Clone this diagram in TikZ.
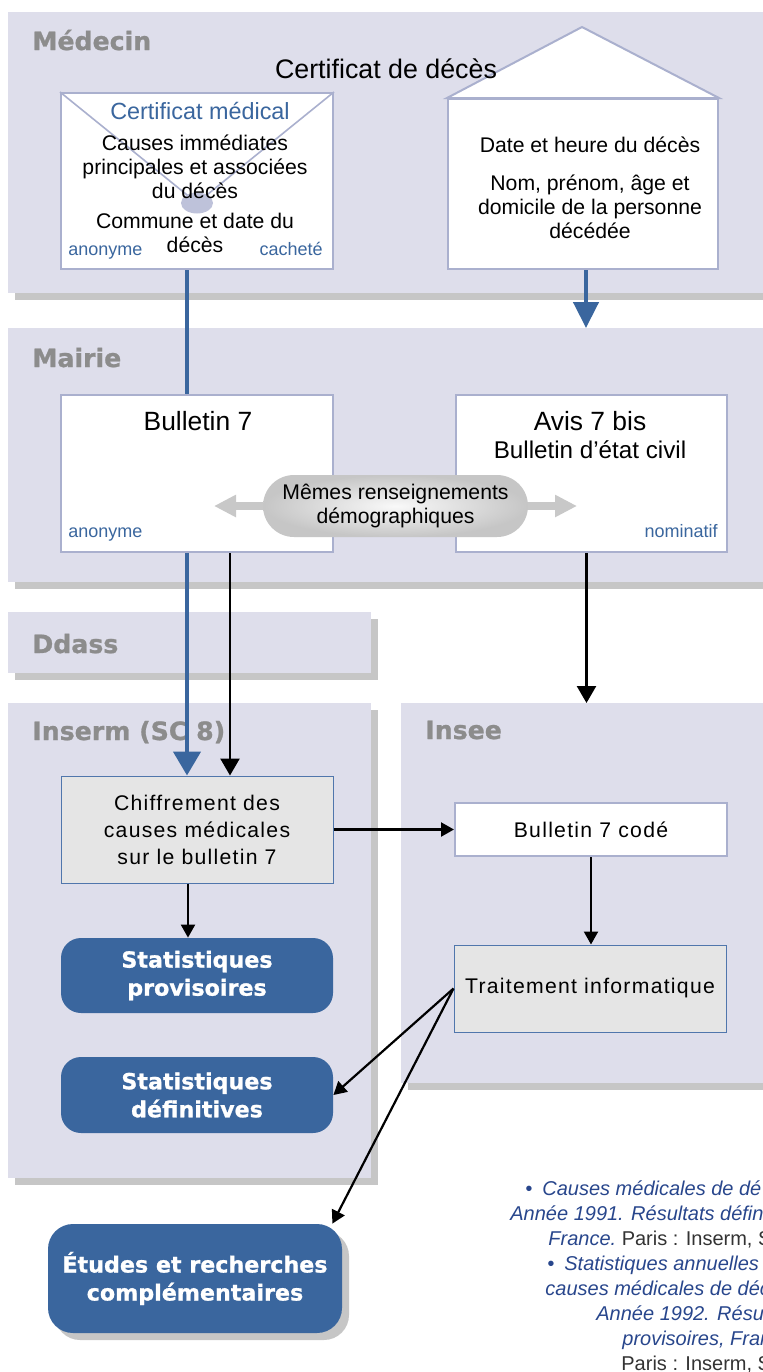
\documentclass[tikz,border=0pt]{standalone}
\usepackage{fontspec}
\setmainfont{Liberation Sans}
\newfontfamily\heavyfont[FakeBold=1]{DejaVu Sans Bold}
\newfontfamily\trackfont[LetterSpace=6]{Liberation Sans}
\usepackage{xcolor}
\usetikzlibrary{arrows.meta,shadows,shapes.geometric}

\definecolor{panelfill}{RGB}{222,222,235}
\definecolor{panelshadow}{RGB}{198,198,198}
\definecolor{titlegray}{RGB}{140,140,140}
\definecolor{inseblue}{RGB}{58,102,158}
\definecolor{boxline}{RGB}{170,176,206}
\definecolor{boxgray}{RGB}{229,229,229}
\definecolor{thinblue}{RGB}{80,118,172}
\definecolor{refblue}{RGB}{40,70,140}
\definecolor{refgray}{RGB}{51,51,51}
\definecolor{sealfill}{RGB}{190,194,218}
\definecolor{arrowgray}{RGB}{200,200,200}

\begin{document}
\begin{tikzpicture}[x=0.5pt,y=-0.5pt,
    panel/.style={fill=panelfill,inner sep=0pt,outer sep=0pt,
      drop shadow={shadow xshift=3.5pt,shadow yshift=-3.5pt,fill=panelshadow,opacity=1}},
    paneltitle/.style={anchor=base west,inner sep=0pt,text=titlegray,
      font=\heavyfont\fontsize{12.6}{15}\selectfont},
    docbox/.style={draw=boxline,line width=1pt,fill=white,inner sep=0pt},
    procbox/.style={draw=thinblue,line width=0.5pt,fill=boxgray,inner sep=0pt,align=center,
      font=\trackfont\fontsize{10.6}{13.5}\selectfont},
    resultbox/.style={fill=inseblue,rounded corners=10pt,text=white,inner sep=0pt,align=center,
      minimum width=136pt,font=\heavyfont\fontsize{11.1}{14}\selectfont},
    pill/.style={rounded corners=15.5pt,minimum width=132.5pt,minimum height=31pt,inner sep=0pt,
      align=center,inner color=gray!5,outer color=gray!45,font=\fontsize{10.6}{12}\selectfont},
    bodytext/.style={inner sep=0pt,align=center,font=\fontsize{10.6}{12}\selectfont},
    doctag/.style={inner sep=0pt,text=inseblue,font=\fontsize{9}{11}\selectfont},
    bib/.style={anchor=base west,inner sep=0pt,text=refblue,font=\fontsize{10}{12.5}\selectfont\itshape},
    blueline/.style={draw=inseblue,line width=2.25pt},
    bluearr/.style={blueline,-{Triangle[width=13.5pt,length=12pt]}},
    arr/.style={line width=1.1pt,-{Triangle[width=7pt,length=6.5pt]}},
    bigarr/.style={line width=1.25pt,-{Triangle[width=9.5pt,length=8.5pt]}},
    grayarr/.style={draw=arrowgray,line width=3.8pt,-{Triangle[width=10.5pt,length=11pt]}}
  ]
  \useasboundingbox (0,0) rectangle (763,1372);
  \clip (0,0) rectangle (763,1372);

  % panels
  \node[panel,minimum width=386pt,minimum height=140.5pt] (medecin) at (394,152.5) {};
  \node[panel,minimum width=386pt,minimum height=127pt] (mairie) at (394,455) {};
  \node[panel,minimum width=181.5pt,minimum height=30.5pt] (ddass) at (189.5,642.5) {};
  \node[panel,minimum width=181.5pt,minimum height=237.5pt] (inserm) at (189.5,940.5) {};
  \node[panel,minimum width=189.5pt,minimum height=190pt] (insee) at (590.5,893) {};
  \node[paneltitle] (medecintitle) at (32,50) {Médecin};
  \node[paneltitle] (mairietitle) at (32,367) {Mairie};
  \node[paneltitle] (ddasstitle) at (32,653) {Ddass};
  \node[paneltitle] (insermtitle) at (32,740) {Inserm (SC 8)};
  \node[paneltitle] (inseetitle) at (425,739) {Insee};

  % Medecin: envelope
  \node[docbox,minimum width=136pt,minimum height=88pt] (cert) at (197,181) {};
  \coordinate (flaptip) at (197,203);
  \draw[boxline,line width=0.8pt] (cert.north west) -- (flaptip) -- (cert.north east);
  \node[ellipse,fill=sealfill,minimum width=16pt,minimum height=10.5pt,inner sep=0pt] (seal) at (flaptip) {};
  \node[anchor=base,inner sep=0pt,text=inseblue,font=\fontsize{11.7}{14}\selectfont] (certtitle) at (200,119) {Certificat médical};
  \node[bodytext] (certbody) at (195,194) {Causes immédiates\\principales et associées\\du décès\\[3pt]Commune et date du\\décès};
  \node[doctag,anchor=base west] (certanon) at (68,255) {anonyme};
  \node[doctag,anchor=base east] (certseal) at (323,255) {cacheté};

  % Medecin: house
  \node[docbox,minimum width=135pt,minimum height=85pt] (house) at (583,184) {};
  \coordinate (roof) at (582,27);
  \filldraw[fill=white,draw=boxline,line width=1pt] (house.north west) -- (roof) -- (house.north east) -- cycle;
  \node[bodytext] (housetext) at (590,188) {Date et heure du décès\\[7pt]Nom, prénom, âge et\\domicile de la personne\\décédée};
  \node[anchor=base,inner sep=0pt,font=\fontsize{13.4}{16}\selectfont] (certdeces) at (386,78) {Certificat de décès};

  % Mairie
  \node[docbox,minimum width=136pt,minimum height=78.5pt] (bul) at (197,473.5) {};
  \node[docbox,minimum width=135.5pt,minimum height=78.5pt] (avis) at (591.5,473.5) {};
  \node[anchor=base,inner sep=0pt,font=\fontsize{13.2}{16}\selectfont] (bultitle) at (198,430) {Bulletin 7};
  \node[anchor=base,inner sep=0pt,font=\fontsize{13.2}{16}\selectfont] (avistitle) at (590,430) {Avis 7 bis};
  \node[anchor=base,inner sep=0pt,font=\fontsize{12.1}{14}\selectfont] (avissub) at (590,458) {Bulletin d’état civil};
  \node[doctag,anchor=base west] (bulanon) at (68,537) {anonyme};
  \node[doctag,anchor=base east] (avisnom) at (718,537) {nominatif};
  \coordinate (lefttip) at (214,506);
  \coordinate (righttip) at (577,506);
  \node[pill] (pill) at (395.5,506) {Mêmes renseignements\\démographiques};
  \draw[grayarr] (pill) -- (lefttip);
  \draw[grayarr] (pill) -- (righttip);

  % Inserm
  \node[procbox,minimum width=136pt,minimum height=53.5pt] (chiffre) at (197,829.5) {Chiffrement des\\causes médicales\\sur le bulletin 7};
  \node[resultbox,minimum height=37.5pt] (sprov) at (197,975.5) {Statistiques\\provisoires};
  \node[resultbox,minimum height=38pt] (sdef) at (197,1095) {Statistiques\\définitives};
  \node[resultbox,rounded corners=12.5pt,minimum width=147pt,minimum height=54.5pt,
    drop shadow={shadow xshift=3.5pt,shadow yshift=-3.5pt,fill=panelshadow,opacity=1}] (etudes) at (195,1278.5) {Études et recherches\\complémentaires};

  % Insee
  \node[docbox,minimum width=136pt,minimum height=26.5pt,font=\trackfont\fontsize{10.6}{13}\selectfont] (bcode) at (591,829.5) {Bulletin 7 codé};
  \node[procbox,minimum width=136pt,minimum height=43.5pt] (trait) at (590,988.5) {Traitement informatique};

  % connectors
  \draw[blueline] ([xshift=-5pt]cert.south) -- ([xshift=-5pt]bul.north);
  \draw[bluearr] ([xshift=-5pt]bul.south) -- ([xshift=-5pt]chiffre.north);
  \draw[bluearr,-{Triangle[width=12.5pt,length=13pt]}] ([xshift=1.5pt]house.south) -- ([xshift=1.5pt]house.south |- mairie.north);
  \draw[bigarr] ([xshift=16.5pt]bul.south) -- ([xshift=16.5pt]chiffre.north);
  \draw[bigarr] ([xshift=-2.5pt]avis.south) -- ([xshift=-2.5pt]avis.south |- insee.north);
  \draw[arr] (chiffre.east) -- (bcode.west);
  \draw[arr] (bcode.south) -- (bcode.south |- trait.north);
  \draw[arr] ([xshift=-4.5pt]chiffre.south) -- ([xshift=-4.5pt]chiffre.south |- sprov.north);
  \draw[arr] (trait.west) -- (sdef.east);
  \draw[arr] (trait.west) -- ([xshift=-5pt]etudes.north east);

  % references
  \node[bib] (bib1) at (525,1195) {•\enspace Causes médicales de dé};
  \node[bib] (bib2) at (510,1220) {Année 1991. Résultats défin};
  \node[bib] (bib3) at (548,1245) {France.\upshape\color{refgray}\ Paris : Inserm, S};
  \node[bib] (bib4) at (547,1270) {•\enspace Statistiques annuelles};
  \node[bib] (bib5) at (545,1295) {causes médicales de déc};
  \node[bib] (bib6) at (596,1320) {Année 1992. Résu};
  \node[bib] (bib7) at (622,1345) {provisoires, Fran};
  \node[bib,text=refgray,font=\fontsize{10}{12.5}\selectfont] (bib8) at (621,1370) {Paris : Inserm, S};
\end{tikzpicture}
\end{document}
